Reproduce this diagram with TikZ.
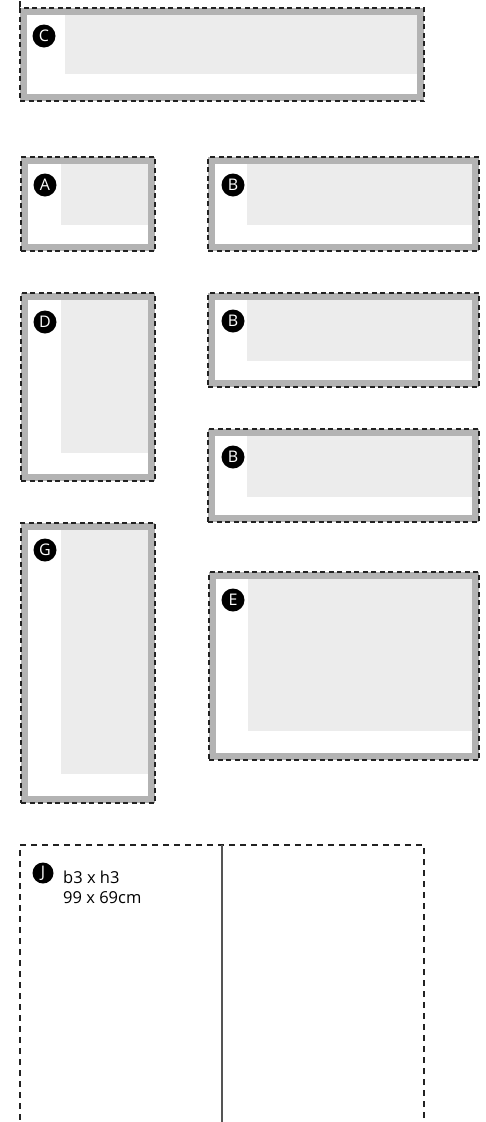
\documentclass[tikz,border=0pt]{standalone}
\usepackage{fontspec}
\setmainfont{Open Sans}
\definecolor{framegray}{HTML}{B3B3B3}
\definecolor{glassgray}{HTML}{ECECEC}
\definecolor{cutline}{HTML}{222222}
\definecolor{foldline}{HTML}{555555}

\begin{document}
\begin{tikzpicture}[x=1pt, y=-1pt,
		frame/.style={draw=cutline, dash pattern=on 5pt off 3.5pt, line width=1.1pt, fill=framegray, inner sep=0pt, outer sep=0pt, anchor=north west},
		paper/.style={fill=white, inner sep=0pt, outer sep=0pt},
		glass/.style={fill=glassgray, inner sep=0pt, outer sep=0pt, anchor=north east},
		badge/.style={circle, fill=black, text=white, minimum size=23pt, inner sep=0pt, font=\fontsize{16}{16}\selectfont},
		cut/.style={draw=cutline, dash pattern=on 6pt off 5pt, line width=1.1pt},
		sheet/.style={cut, inner sep=0pt, outer sep=0pt, anchor=north west},
		fold/.style={draw=foldline, line width=1.1pt},
		note/.style={align=left, anchor=north west, inner sep=0pt, font=\fontsize{16.5}{20}\selectfont}
	]
	\useasboundingbox (0,0) rectangle (486,1122);

	% end of the sheet above
	\coordinate (prevcut) at (20,7);
	\draw[cut] (prevcut) -- ++(0,-12);

	% C
	\node[frame, minimum width=404pt, minimum height=93pt] (c) at (20,8) {};
	\node[paper, minimum width=390pt, minimum height=79pt] at (c.center) {};
	\node[glass, minimum width=352pt, minimum height=59pt] at ([shift={(-7,7)}]c.north east) {};
	\node[badge] (cb) at ([shift={(24,28)}]c.north west) {C};

	% A
	\node[frame, minimum width=134pt, minimum height=94pt] (a) at (21,157) {};
	\node[paper, minimum width=120pt, minimum height=80pt] at (a.center) {};
	\node[glass, minimum width=87pt, minimum height=61pt] at ([shift={(-7,7)}]a.north east) {};
	\node[badge] (ab) at ([shift={(24,28)}]a.north west) {A};

	% B, first
	\node[frame, minimum width=271pt, minimum height=94pt] (b1) at (208,157) {};
	\node[paper, minimum width=257pt, minimum height=80pt] at (b1.center) {};
	\node[glass, minimum width=225pt, minimum height=61pt] at ([shift={(-7,7)}]b1.north east) {};
	\node[badge] (b1b) at ([shift={(25,28)}]b1.north west) {B};

	% D
	\node[frame, minimum width=134pt, minimum height=188pt] (d) at (21,293) {};
	\node[paper, minimum width=120pt, minimum height=174pt] at (d.center) {};
	\node[glass, minimum width=87pt, minimum height=153pt] at ([shift={(-7,7)}]d.north east) {};
	\node[badge] (db) at ([shift={(24,29)}]d.north west) {D};

	% B, second
	\node[frame, minimum width=271pt, minimum height=94pt] (b2) at (208,293) {};
	\node[paper, minimum width=257pt, minimum height=80pt] at (b2.center) {};
	\node[glass, minimum width=225pt, minimum height=61pt] at ([shift={(-7,7)}]b2.north east) {};
	\node[badge] (b2b) at ([shift={(25,28)}]b2.north west) {B};

	% B, third
	\node[frame, minimum width=271pt, minimum height=93pt] (b3) at (208,429) {};
	\node[paper, minimum width=257pt, minimum height=79pt] at (b3.center) {};
	\node[glass, minimum width=225pt, minimum height=61pt] at ([shift={(-7,7)}]b3.north east) {};
	\node[badge] (b3b) at ([shift={(25,28)}]b3.north west) {B};

	% G
	\node[frame, minimum width=134pt, minimum height=280pt] (g) at (21,523) {};
	\node[paper, minimum width=120pt, minimum height=266pt] at (g.center) {};
	\node[glass, minimum width=87pt, minimum height=244pt] at ([shift={(-7,7)}]g.north east) {};
	\node[badge] (gb) at ([shift={(24,27)}]g.north west) {G};

	% E
	\node[frame, minimum width=270pt, minimum height=188pt] (e) at (209,572) {};
	\node[paper, minimum width=256pt, minimum height=174pt] at (e.center) {};
	\node[glass, minimum width=224pt, minimum height=152pt] at ([shift={(-7,7)}]e.north east) {};
	\node[badge] (eb) at ([shift={(24,28)}]e.north west) {E};

	% J, runs off the page
	\node[sheet, minimum width=404pt, minimum height=320pt] (j) at (20,845) {};
	\draw[fold] (j.north) -- (j.south);
	\node[badge, minimum size=21pt] (jb) at ([shift={(23,28)}]j.north west) {J};
	\node[note] (jtext) at (63,871) {b3 x h3\\99 x 69cm};
\end{tikzpicture}
\end{document}
